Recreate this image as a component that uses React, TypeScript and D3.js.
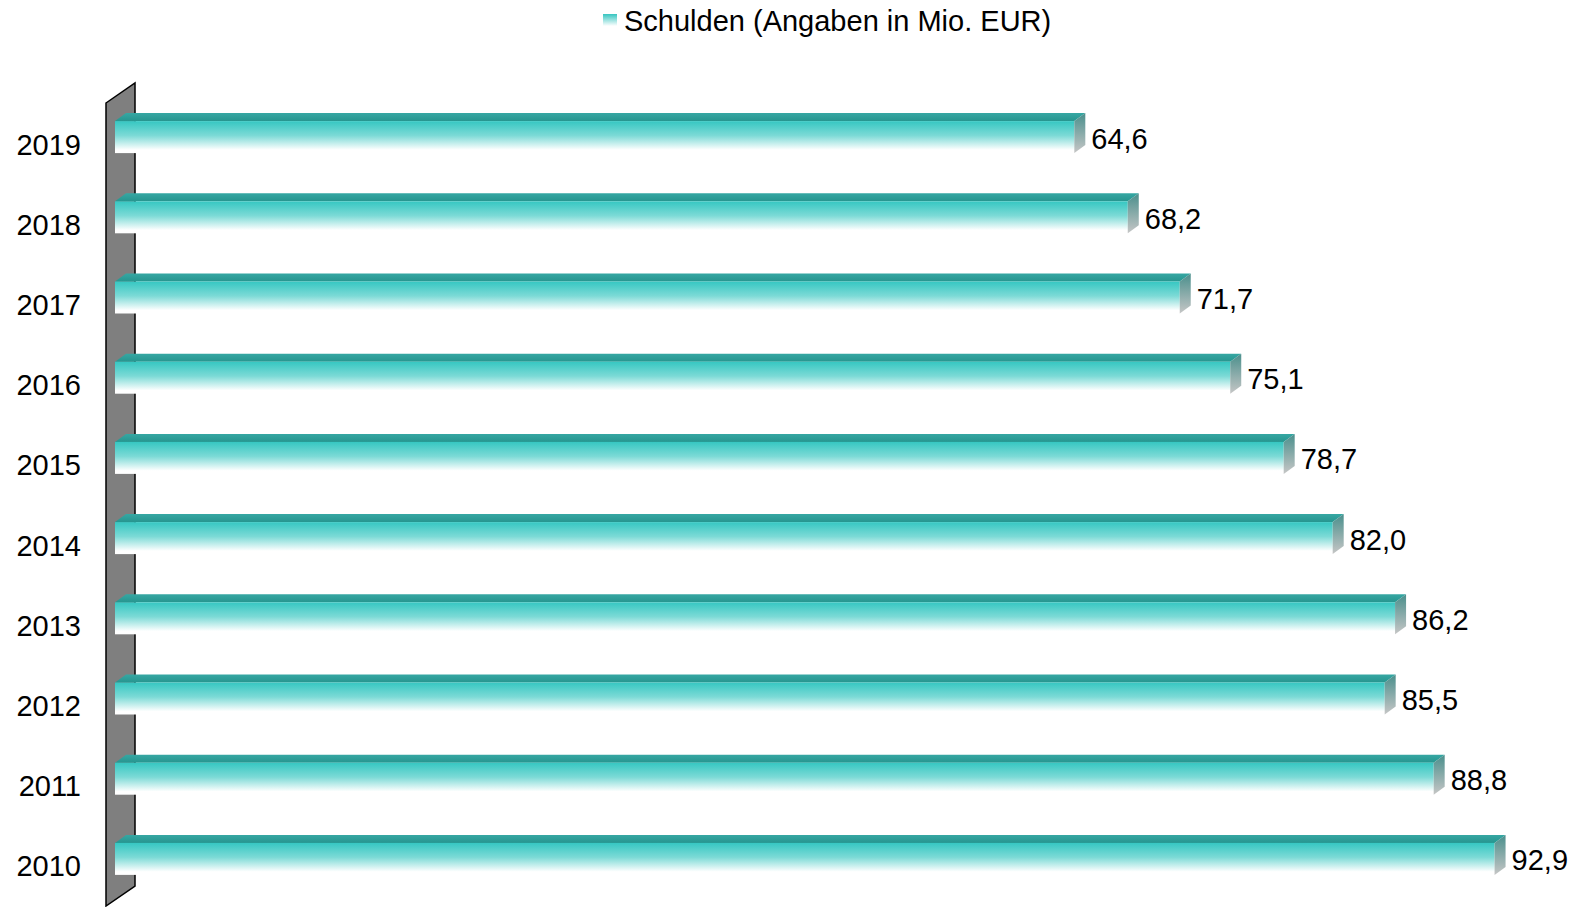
import React from 'react';
import * as d3 from 'd3';

const years = ['2019', '2018', '2017', '2016', '2015', '2014', '2013', '2012', '2011', '2010'];
const debts = [64.6, 68.2, 71.7, 75.1, 78.7, 82.0, 86.2, 85.5, 88.8, 92.9];
const legendLabel = 'Schulden (Angaben in Mio. EUR)';

const W = 1573;
const H = 907;
const FONT = '"Liberation Sans", Arial, sans-serif';
const FS = 29;

// depth offsets of the fake 3D look
const wallDx = 29;
const wallDy = -20;
const barDx = 11;
const barDy = -8;
const barH = 32;

const App = () => {
  const y = d3.scaleBand<string>().domain(years).range([104, 906]).padding(0);
  const x = d3.scaleLinear().domain([0, 100]).range([115, 1600]);
  const fmt = (v: number) => v.toFixed(1).replace('.', ',');

  const wallX = 106;
  const wallTop = 103;
  const wallBottom = 906;
  const wall = [
    [wallX, wallTop],
    [wallX + wallDx, wallTop + wallDy],
    [wallX + wallDx, wallBottom + wallDy],
    [wallX, wallBottom],
  ];

  return (
    <svg
      width={W}
      height={H}
      style={{ position: 'absolute', left: 0, top: 0, background: '#fff' }}
      fontFamily={FONT}
    >
      <defs>
        <linearGradient id="front" x1="0" y1="0" x2="0" y2="1">
          <stop offset="0" stopColor="#36c7c2" />
          <stop offset="0.45" stopColor="#7cdad6" />
          <stop offset="0.9" stopColor="#ffffff" />
          <stop offset="1" stopColor="#ffffff" />
        </linearGradient>
        <linearGradient id="top" x1="0" y1="0" x2="0" y2="1">
          <stop offset="0" stopColor="#36a7a3" />
          <stop offset="1" stopColor="#27958f" />
        </linearGradient>
        <linearGradient id="side" x1="0" y1="0" x2="0" y2="1">
          <stop offset="0" stopColor="#4a8f8c" />
          <stop offset="1" stopColor="#c6c6c6" />
        </linearGradient>
        <linearGradient id="legend" x1="0" y1="0" x2="0" y2="1">
          <stop offset="0" stopColor="#36c5c0" />
          <stop offset="1" stopColor="#ffffff" />
        </linearGradient>
      </defs>

      {/* legend */}
      <rect x={603} y={14} width={14} height={12} fill="url(#legend)" />
      <text x={624} y={31} fontSize={FS} fill="#000">
        {legendLabel}
      </text>

      {/* side wall */}
      <polygon
        points={wall.map((p) => p.join(',')).join(' ')}
        fill="#7f7f7f"
        stroke="#000"
        strokeWidth={1.5}
      />

      {/* category labels */}
      {years.map((yr) => (
        <text
          key={yr}
          x={81}
          y={(y(yr) as number) + y.bandwidth() / 2}
          dy="0.36em"
          textAnchor="end"
          fontSize={FS}
          fill="#000"
        >
          {yr}
        </text>
      ))}

      {/* bars */}
      {years.map((yr, i) => {
        const v = debts[i];
        const c = (y(yr) as number) + y.bandwidth() / 2 - 7;
        const yt = c - barH / 2;
        const yb = c + barH / 2;
        const x0 = x(0);
        const xe = x(v);
        const topPts = [
          [x0, yt],
          [x0 + barDx, yt + barDy],
          [xe + barDx, yt + barDy],
          [xe, yt],
        ];
        const sidePts = [
          [xe, yt],
          [xe + barDx, yt + barDy],
          [xe + barDx, yb + barDy],
          [xe, yb],
        ];
        return (
          <g key={yr}>
            <polygon points={topPts.map((p) => p.join(',')).join(' ')} fill="url(#top)" />
            <rect x={x0} y={yt} width={xe - x0} height={barH} fill="url(#front)" />
            <polygon points={sidePts.map((p) => p.join(',')).join(' ')} fill="url(#side)" />
            <text x={xe + barDx + 6} y={c + 1} dy="0.36em" fontSize={FS} fill="#000">
              {fmt(v)}
            </text>
          </g>
        );
      })}
    </svg>
  );
};

export default App;
